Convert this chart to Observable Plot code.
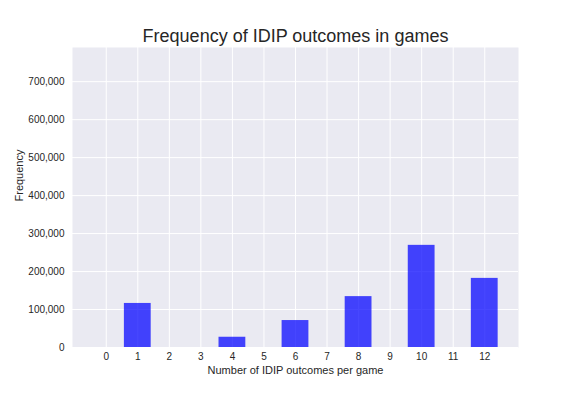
<!DOCTYPE html>
<html><head><meta charset="utf-8">
<script src="https://cdn.jsdelivr.net/npm/d3@7"></script>
<script src="https://cdn.jsdelivr.net/npm/@observablehq/plot@0.6"></script>
<style>body{margin:0;background:#fff} svg{display:block}</style>
</head><body><div id="chart"></div>
<script>
const outcomes = [1, 4, 6, 8, 10, 12];
const frequencies = [116000, 27000, 71000, 134000, 269000, 182000];
const xTicks = [0, 1, 2, 3, 4, 5, 6, 7, 8, 9, 10, 11, 12];
const yTicks = [0, 100000, 200000, 300000, 400000, 500000, 600000, 700000];
const title = "Frequency of IDIP outcomes in games";
const xLabel = "Number of IDIP outcomes per game";
const yLabel = "Frequency";

const data = outcomes.map((k, i) => ({k, v: frequencies[i]}));
const halfWidth = 0.425;

const chart = Plot.plot({
  width: 576, height: 396,
  marginLeft: 72, marginRight: 58, marginTop: 47, marginBottom: 49,
  style: {fontFamily: "Liberation Sans, Arial, sans-serif", fontSize: "10px", color: "#262626", background: "#fff"},
  x: {domain: [-1.07, 13.07]},
  y: {domain: [0, 790000]},
  marks: [
    Plot.frame({fill: "#EAEAF2", stroke: "none"}),
    Plot.gridX(xTicks, {stroke: "white", strokeOpacity: 1, strokeWidth: 1}),
    Plot.gridY(yTicks, {stroke: "white", strokeOpacity: 1, strokeWidth: 1}),
    Plot.rectY(data, {x1: d => d.k - halfWidth, x2: d => d.k + halfWidth, y: "v", fill: "blue", fillOpacity: 0.72}),
    Plot.axisX(xTicks, {tickSize: 0, tickPadding: 5, label: null, fontSize: 10}),
    Plot.axisY(yTicks, {tickSize: 0, tickPadding: 8, label: null, fontSize: 10, tickFormat: d3.format(",")}),
    Plot.text([xLabel], {frameAnchor: "bottom", dy: 26, fontSize: 11, fill: "#262626"}),
    Plot.text([yLabel], {frameAnchor: "left", dx: -53, dy: 4, rotate: -90, fontSize: 11, fill: "#262626"}),
    Plot.text([title], {frameAnchor: "top", lineAnchor: "bottom", dy: -6, fontSize: 18, fill: "#262626"})
  ]
});
document.getElementById("chart").appendChild(chart);
</script>
</body></html>
